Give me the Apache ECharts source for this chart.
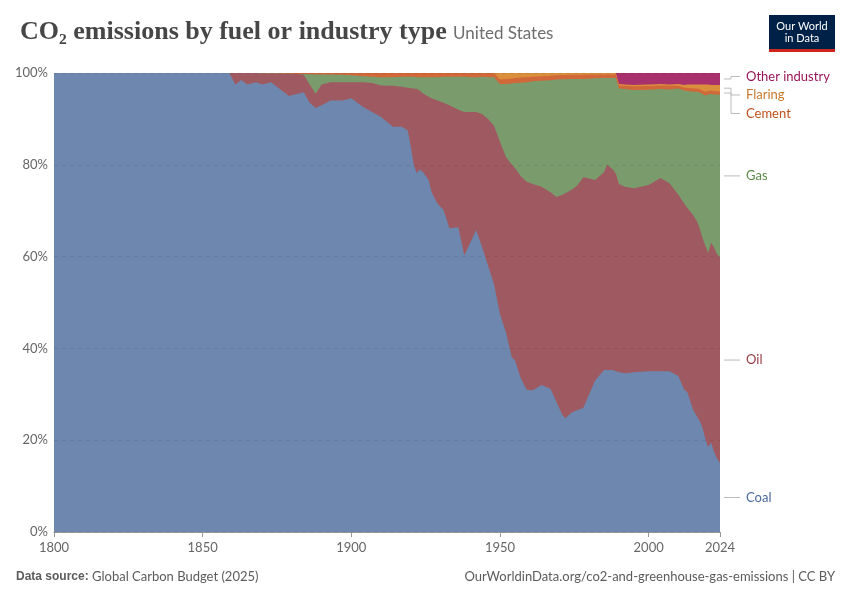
<!DOCTYPE html>
<html>
<head>
<meta charset="utf-8">
<script src="https://cdn.jsdelivr.net/npm/echarts@6/dist/echarts.min.js"></script>
<style>
  html, body { margin: 0; padding: 0; background: #fff; }
  #chart { width: 850px; height: 600px; }
</style>
</head>
<body>
<div id="chart"></div>
<script>
// key years (shares in %)
const years = [1800, 1859, 1861, 1863, 1865, 1868, 1870, 1873, 1876, 1879,
  1882, 1884, 1886, 1888, 1890, 1893, 1897, 1900, 1904, 1907,
  1910, 1914, 1917, 1919, 1920, 1921, 1922, 1923, 1924, 1926,
  1927, 1929, 1931, 1933, 1936, 1938, 1940, 1942, 1944, 1946,
  1948, 1950, 1952, 1954, 1955, 1957, 1959, 1961, 1964, 1967,
  1969, 1971, 1972, 1974, 1976, 1978, 1980, 1982, 1985, 1986,
  1988, 1989, 1990, 1992, 1995, 2000, 2004, 2007, 2010, 2012,
  2013, 2015, 2016, 2017, 2018, 2019, 2020, 2021, 2022, 2023, 2024];

const coal = [100, 100, 97.5, 98.5, 97.5, 98, 97.5, 98, 96.5, 95,
  95.5, 95.8, 93.5, 92.4, 93, 94, 94, 94.5, 92.6, 91.5,
  90.4, 88.3, 88.3, 87.5, 84, 80, 78.2, 79, 78.5, 76.7,
  74, 71.5, 70.2, 66.2, 66.4, 60.3, 63, 65.8, 62, 58,
  54, 47.5, 43.5, 38, 37.5, 33.5, 31, 30.9, 32, 31.2,
  28.3, 25.5, 24.8, 26, 26.6, 27, 30, 33, 35.3, 35.3,
  35.3, 35, 34.8, 34.6, 34.8, 35, 35, 35, 34, 31,
  30.5, 26.6, 25.5, 24.4, 23, 20.5, 18.5, 19.5, 17.5, 16, 15];

const oil = [0, 0, 2.5, 1.5, 2.5, 2.0, 2.4, 1.9, 3.4, 4.85,
  4.3, 3.8, 4.0, 3.1, 4.5, 4.0, 4.0, 3.5, 5.4, 6.3,
  6.9, 8.9, 8.7, 9.3, 12.7, 16.6, 18.3, 17.2, 17.1, 18.1,
  20.5, 22.5, 23.3, 26.8, 25.6, 31.2, 28.5, 25.7, 29, 32,
  34.5, 37.5, 38.2, 42, 41.8, 44, 45.3, 44.9, 43.2, 42.8,
  44.7, 48, 49, 48.5, 48.9, 50.3, 47, 43.7, 43.1, 44.7,
  43.7, 43, 41, 40.6, 40.1, 40.6, 42.1, 41, 39.5, 40.5,
  40.1, 42.4, 42.5, 42.1, 41.3, 42, 42.3, 43.5, 44.5, 44.5, 44.7];

const gas = [0, 0, 0, 0, 0, 0, 0, 0, 0, 0,
  0, 0.2, 2.25, 4.2, 2.2, 1.65, 1.6, 1.5, 1.3, 1.4,
  1.8, 1.9, 2.2, 2.4, 2.5, 2.6, 2.6, 2.9, 3.5, 4.3,
  4.6, 5.1, 5.7, 6.2, 7.2, 7.7, 7.6, 7.6, 8.1, 9.1,
  10.6, 12.6, 15.9, 17.7, 18.5, 20.4, 21.7, 22.4, 23.1, 24.4,
  25.6, 25.15, 24.85, 24.2, 23.2, 21.4, 21.75, 22.15, 20.5, 18.9,
  19.9, 20.9, 20.8, 21.3, 21.4, 20.75, 19.4, 20.4, 23.1, 24.7,
  25.5, 26.9, 27.9, 29.3, 31.2, 32.6, 34.5, 32.4, 33.3, 34.8, 35.3];

const cement = [0, 0, 0, 0, 0, 0, 0.1, 0.1, 0.1, 0.15,
  0.2, 0.2, 0.25, 0.3, 0.3, 0.35, 0.4, 0.5, 0.7, 0.8,
  0.9, 0.9, 0.8, 0.8, 0.8, 0.8, 0.9, 0.9, 0.9, 0.9,
  0.9, 0.9, 0.8, 0.8, 0.8, 0.8, 0.9, 0.9, 0.8, 0.9,
  0.9, 1.0, 1.1, 1.1, 1.1, 1.1, 1.1, 1.0, 1.0, 1.0,
  0.9, 0.9, 0.9, 0.9, 0.9, 0.9, 0.9, 0.8, 0.8, 0.8,
  0.8, 0.8, 0.7, 0.7, 0.8, 0.8, 0.8, 0.8, 0.6, 0.6,
  0.7, 0.7, 0.7, 0.7, 0.7, 0.8, 0.8, 0.8, 0.8, 0.7, 0.7];

const flaring = [0, 0, 0, 0, 0, 0, 0, 0, 0, 0,
  0, 0, 0, 0, 0, 0, 0, 0, 0, 0,
  0, 0, 0, 0, 0, 0, 0, 0, 0, 0,
  0, 0, 0, 0, 0, 0, 0, 0, 0, 0,
  0, 1.4, 1.3, 1.2, 1.1, 1.0, 0.9, 0.8, 0.7, 0.6,
  0.5, 0.45, 0.45, 0.4, 0.4, 0.4, 0.35, 0.35, 0.3, 0.3,
  0.3, 0.3, 0.3, 0.3, 0.3, 0.35, 0.3, 0.3, 0.4, 0.6,
  0.7, 0.9, 0.9, 1.0, 1.3, 1.6, 1.4, 1.2, 1.3, 1.4, 1.4];

const otherIndustry = [0, 0, 0, 0, 0, 0, 0, 0, 0, 0,
  0, 0, 0, 0, 0, 0, 0, 0, 0, 0,
  0, 0, 0, 0, 0, 0, 0, 0, 0, 0,
  0, 0, 0, 0, 0, 0, 0, 0, 0, 0,
  0, 0, 0, 0, 0, 0, 0, 0, 0, 0,
  0, 0, 0, 0, 0, 0, 0, 0, 0, 0,
  0, 0, 2.4, 2.5, 2.6, 2.5, 2.4, 2.5, 2.4, 2.6,
  2.5, 2.5, 2.5, 2.5, 2.5, 2.5, 2.5, 2.6, 2.6, 2.6, 2.6];

const xTicks = [1800, 1850, 1900, 1950, 2000, 2024];

const names = ['Coal', 'Oil', 'Gas', 'Cement', 'Flaring', 'Other industry'];
const fills = ['#6d87ae', '#9f5960', '#7a9b6c', '#d0683a', '#d98f3c', '#a8306d'];
const textColors = ['#4c6a9c', '#9a3c45', '#5a8a4a', '#c0501c', '#c47a30', '#9a1557'];
const raw = [coal, oil, gas, cement, flaring, otherIndustry];

// relative stack: each year sums to 100%, cumulative tops per band
const totals = years.map((y, i) => raw.reduce((s, a) => s + a[i], 0));
const tops = [];
raw.forEach((arr, k) => {
  tops.push(years.map((y, i) => (k ? tops[k - 1][i] : 0) + arr[i] / totals[i] * 100));
});

const chart = echarts.init(document.getElementById('chart'));

// draw top band first so each lower band covers the one above it
const series = [];
for (let k = raw.length - 1; k >= 0; k--) {
  series.push({
    name: names[k],
    type: 'line',
    symbol: 'none',
    lineStyle: { width: 0, opacity: 0 },
    areaStyle: { color: fills[k], opacity: 1 },
    emphasis: { disabled: true },
    data: years.map((y, i) => [y, tops[k][i]])
  });
}

chart.setOption({
  animation: false,
  textStyle: { fontFamily: 'Lato' },
  title: {
    left: 15,
    top: 14,
    text: '{t|CO₂ emissions by fuel or industry type} {s|United States}',
    textStyle: {
      rich: {
        t: { fontFamily: 'Liberation Serif', fontSize: 26, fontWeight: 'bold', color: '#464646' },
        s: { fontFamily: 'Lato', fontSize: 17, fontWeight: 'normal', color: '#6e6e6e', padding: [4, 0, 0, 2] }
      }
    }
  },
  grid: { left: 54, right: 130, top: 73, bottom: 68 },
  xAxis: {
    type: 'value',
    min: 1800,
    max: 2024,
    axisLine: { lineStyle: { color: '#999' } },
    axisTick: { customValues: xTicks, length: 5, lineStyle: { color: '#999' } },
    axisLabel: { customValues: xTicks, formatter: v => String(v), color: '#666', fontSize: 13, margin: 9 },
    splitLine: { show: false }
  },
  yAxis: {
    type: 'value',
    min: 0,
    max: 100,
    interval: 20,
    z: 5,
    axisLine: { show: false },
    axisTick: { show: false },
    axisLabel: { formatter: '{value}%', color: '#666', fontSize: 13, margin: 6 },
    splitLine: { lineStyle: { color: 'rgba(0,0,0,0.08)', type: [4, 4] } }
  },
  series: series
});

// right-hand labels, placed at the middle of each band in the last year
const last = years.length - 1;
const lastYear = years[last];
const mids = names.map((n, k) => {
  const lo = k ? tops[k - 1][last] : 0;
  return chart.convertToPixel({ gridIndex: 0 }, [lastYear, (lo + tops[k][last]) / 2]);
});
const labelY = mids.map(p => p[1]);
// spread overlapping labels top to bottom, then lift crowded ones a little
const order = labelY.map((y, k) => k).sort((a, b) => labelY[a] - labelY[b]);
const placed = {};
const crowded = {};
let prev = -Infinity;
order.forEach((k, j) => {
  const y = Math.max(labelY[k], prev + 18.5);
  if (y > labelY[k]) { crowded[k] = true; crowded[order[j - 1]] = true; }
  placed[k] = y;
  prev = y;
});
Object.keys(crowded).forEach(k => { placed[k] -= 2.5; });

const graphics = [];
names.forEach((n, k) => {
  const x0 = mids[k][0];
  const ym = mids[k][1];
  const yl = placed[k];
  graphics.push({
    type: 'polyline',
    shape: { points: [[x0 + 4, ym], [x0 + 11, ym], [x0 + 11, yl], [x0 + 20, yl]] },
    style: { stroke: '#bbb', lineWidth: 1, fill: null }
  });
  graphics.push({
    type: 'text',
    x: x0 + 26,
    y: yl,
    style: { text: n, fill: textColors[k], font: '13px Lato', textVerticalAlign: 'middle' }
  });
});

// logo
graphics.push({ type: 'rect', shape: { x: 769, y: 15, width: 66, height: 37 }, style: { fill: '#002147' } });
graphics.push({ type: 'rect', shape: { x: 769, y: 49, width: 66, height: 3 }, style: { fill: '#ce261e' } });
graphics.push({
  type: 'text', x: 802, y: 32,
  style: { text: 'Our World\nin Data', fill: '#fff', font: '11px Lato', textAlign: 'center', textVerticalAlign: 'middle', lineHeight: 12 }
});

// footer
graphics.push({
  type: 'text', x: 16, y: 577,
  style: {
    text: '{b|Data source:} Global Carbon Budget (2025)',
    fill: '#5b5b5b', font: '13px Lato', textVerticalAlign: 'middle',
    rich: { b: { fontWeight: 'bold', fill: '#5b5b5b', font: 'bold 13px Lato' } }
  }
});
graphics.push({
  type: 'text', x: 835, y: 577,
  style: {
    text: 'OurWorldinData.org/co2-and-greenhouse-gas-emissions | CC BY',
    fill: '#5b5b5b', font: '13px Lato', textAlign: 'right', textVerticalAlign: 'middle'
  }
});

chart.setOption({ graphic: graphics });
</script>
</body>
</html>
